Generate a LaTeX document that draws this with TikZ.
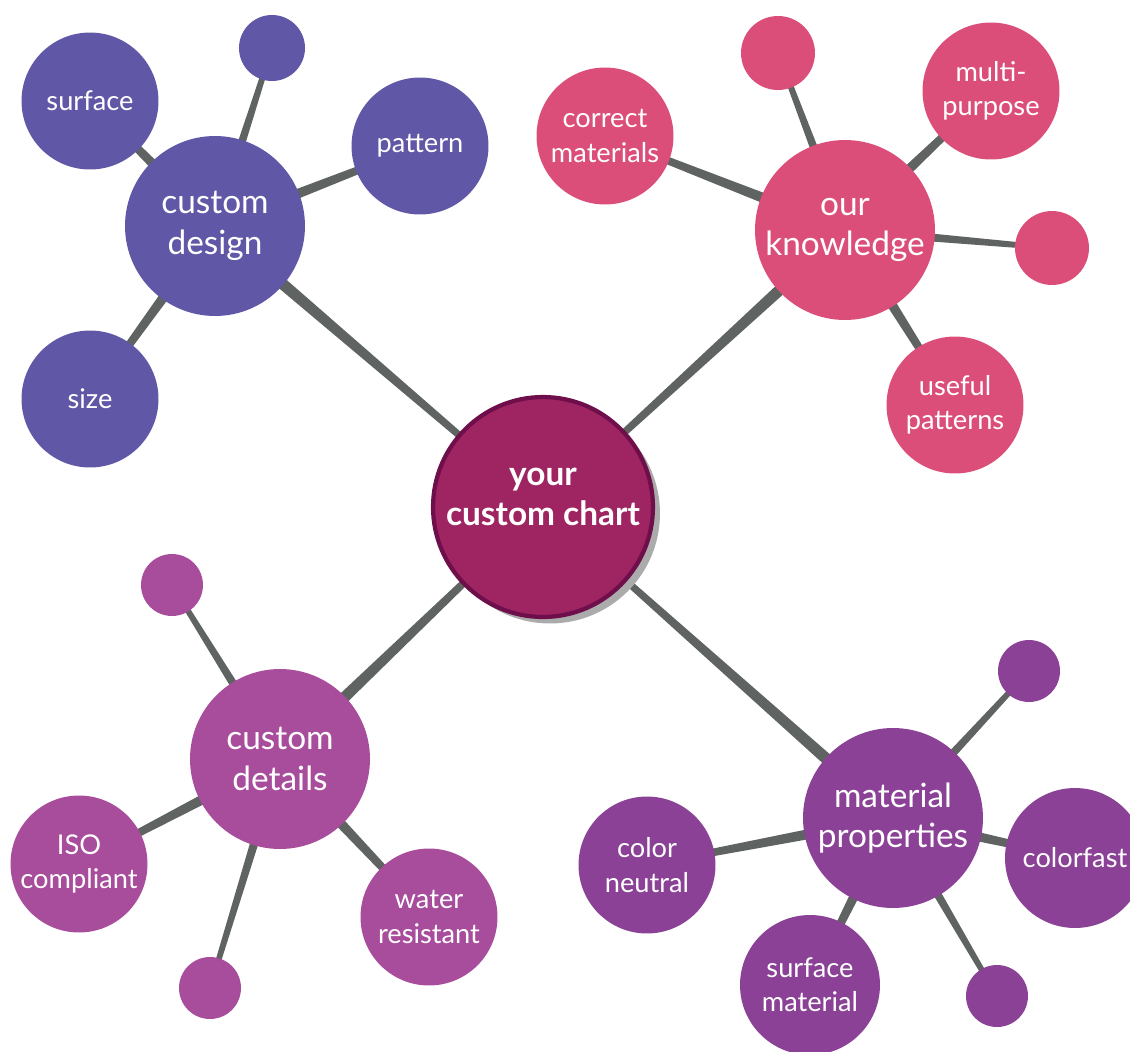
\documentclass[tikz,border=0pt]{standalone}
\usepackage{fontspec}
\setmainfont{Lato}
\usetikzlibrary{calc,backgrounds,shadows}

\definecolor{designcol}{HTML}{6057A6}
\definecolor{knowcol}{HTML}{DC4E7A}
\definecolor{detailcol}{HTML}{A84C9C}
\definecolor{propcol}{HTML}{8A4196}
\definecolor{chartcol}{HTML}{9E2462}
\definecolor{chartrim}{HTML}{6E0E4A}
\definecolor{linkcol}{HTML}{5F6361}

\tikzset{
  bubble/.style={circle, inner sep=0pt, text=white, align=center},
  hub/.style={bubble, minimum size=3.6cm, font=\fontsize{19}{23}\selectfont},
  leaf/.style={bubble, minimum size=2.74cm, font=\fontsize{15.5}{19.5}\selectfont},
  dot/.style={bubble, minimum size=1.28cm},
  link/.style={fill=linkcol}
}

% tapered connector: from #1 (half width #3) to #2 (half width #4)
\newcommand{\taper}[4]{%
  \fill[link] ($(#1)!#3!90:(#2)$) -- ($(#2)!#4!-90:(#1)$)
    -- ($(#2)!#4!90:(#1)$) -- ($(#1)!#3!-90:(#2)$) -- cycle;}

\begin{document}
\begin{tikzpicture}[x=0.02cm, y=-0.02cm]
    \useasboundingbox (0,0) rectangle (1130,1052);

    % Mitte
    \node[bubble, minimum size=4.4cm, fill=chartcol, draw=chartrim, line width=2.4pt,
          font=\fontsize{19}{23}\selectfont\bfseries, text depth=0.4cm,
          drop shadow={shadow xshift=0.14cm, shadow yshift=-0.13cm, fill=black!33, opacity=1}]
        (chart) at (543,507) {your\\custom chart};

    % custom design
    \node[hub, fill=designcol] (design) at (215,226) {custom\\design};
    \node[leaf, fill=designcol] (surface) at (90,101) {surface};
    \node[dot, fill=designcol, minimum size=1.32cm] (d1) at (272,48) {};
    \node[leaf, fill=designcol] (pattern) at (420,146) {pattern};
    \node[leaf, fill=designcol] (size) at (90,399) {size};

    % our knowledge
    \node[hub, fill=knowcol] (know) at (845,230) {our\\knowledge};
    \node[leaf, fill=knowcol] (correct) at (605,136) {correct\\materials};
    \node[dot, fill=knowcol, minimum size=1.48cm] (k1) at (778,53) {};
    \node[leaf, fill=knowcol] (multi) at (991,91) {multi-\\purpose};
    \node[dot, fill=knowcol, minimum size=1.48cm] (k2) at (1052,248) {};
    \node[leaf, fill=knowcol] (useful) at (955,405) {useful\\patterns};

    % custom details
    \node[hub, fill=detailcol] (details) at (280,759) {custom\\details};
    \node[dot, fill=detailcol, minimum size=1.24cm] (c1) at (172,585) {};
    \node[leaf, fill=detailcol] (iso) at (79,864) {ISO\\compliant};
    \node[dot, fill=detailcol, minimum size=1.24cm] (c2) at (210,988) {};
    \node[leaf, fill=detailcol] (water) at (429,917) {water\\resistant};

    % material properties
    \node[hub, fill=propcol] (props) at (893,818) {material\\properties};
    \node[dot, fill=propcol, minimum size=1.24cm] (p1) at (1029,671) {};
    \node[leaf, fill=propcol] (neutral) at (647,865) {color\\neutral};
    \node[leaf, fill=propcol, minimum size=2.8cm] (colorfast) at (1075,858) {colorfast};
    \node[leaf, fill=propcol, minimum size=2.8cm] (surfmat) at (810,985) {surface\\material};
    \node[dot, fill=propcol, minimum size=1.24cm] (p2) at (997,996) {};

    % Verbindungen
    \begin{pgfonlayer}{background}
        \foreach \h in {design, know, details, props}
            {\taper{chart}{\h}{0.05cm}{0.13cm}}
        \foreach \h/\l in {design/surface, design/pattern, design/size,
                           know/correct, know/multi, know/useful,
                           details/iso, details/water,
                           props/neutral, props/colorfast, props/surfmat}
            {\taper{\h}{\l}{0.12cm}{0.06cm}}
        \foreach \h/\l in {design/d1, know/k1, know/k2, details/c1, details/c2,
                           props/p1, props/p2}
            {\taper{\h}{\l}{0.1cm}{0.05cm}}
    \end{pgfonlayer}
\end{tikzpicture}
\end{document}
